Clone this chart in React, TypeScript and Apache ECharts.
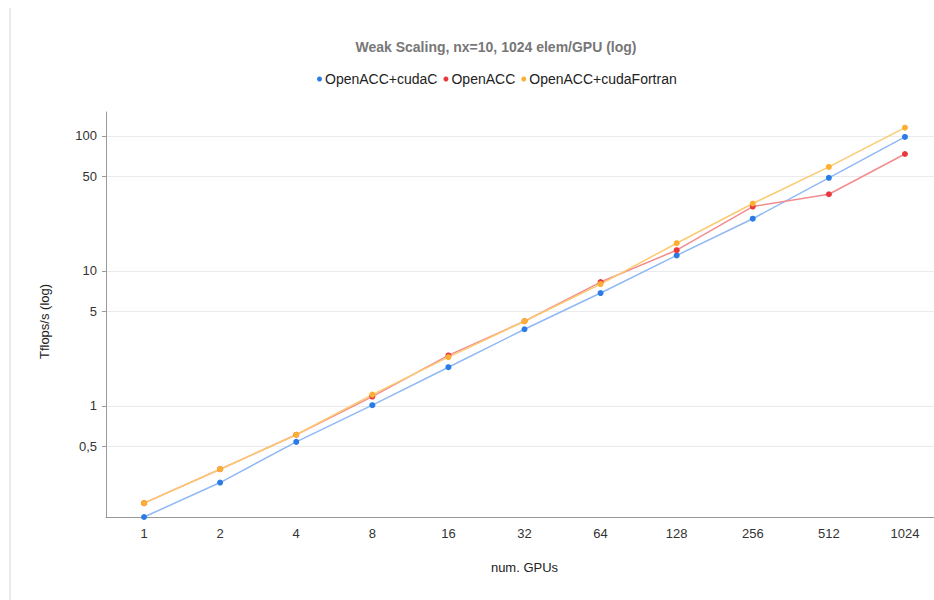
import React, { useEffect, useRef } from "react";
import * as echarts from "echarts";

const gpus = ["1", "2", "4", "8", "16", "32", "64", "128", "256", "512", "1024"];
const cudaC = [0.15, 0.27, 0.54, 1.01, 1.93, 3.69, 6.84, 13.0, 24.3, 48.8, 98];
const openACC = [0.19, 0.339, 0.61, 1.17, 2.36, 4.23, 8.25, 14.2, 29.9, 36.9, 73.3];
const cudaFortran = [0.19, 0.339, 0.61, 1.21, 2.29, 4.23, 7.97, 16.0, 31.5, 58.8, 114.8];
const yTicks = [0.5, 1, 5, 10, 50, 100];

const FONT = "'Liberation Sans', Arial, sans-serif";

export default function App() {
  const ref = useRef<HTMLDivElement>(null);
  useEffect(() => {
    if (!ref.current) return;
    const chart = echarts.init(ref.current, null, { renderer: "svg" });
    const mk = (name: string, data: number[], pt: string, ln: string) => ({
      name,
      type: "line",
      data,
      symbol: "circle",
      symbolSize: 6,
      itemStyle: { color: pt },
      lineStyle: { color: ln, width: 1.5 },
    });
    chart.setOption({
      animation: false,
      textStyle: { fontFamily: FONT },
      title: {
        text: "Weak Scaling, nx=10, 1024 elem/GPU (log)",
        left: 491,
        top: 35,
        textAlign: "center",
        textStyle: { fontSize: 14, fontWeight: "bold", color: "#777", fontFamily: FONT },
      },
      legend: {
        left: 312,
        top: 67,
        icon: "circle",
        itemWidth: 5,
        itemHeight: 5,
        itemGap: 6,
        textStyle: { fontSize: 14, color: "#222", fontFamily: FONT, padding: [0, 0, 0, -2] },
        data: ["OpenACC+cudaC", "OpenACC", "OpenACC+cudaFortran"],
      },
      graphic: [
        {
          type: "line",
          shape: { x1: 10, y1: 8, x2: 10, y2: 600 },
          style: { stroke: "#e4e4e4", lineWidth: 1.5 },
        },
      ],
      grid: { left: 106, top: 112, bottom: 83, right: 0 },
      xAxis: {
        type: "category",
        data: gpus,
        name: "num. GPUs",
        nameLocation: "middle",
        nameGap: 44,
        nameTextStyle: { fontSize: 13, color: "#222", fontFamily: FONT },
        axisLine: { lineStyle: { color: "#999" } },
        axisTick: { alignWithLabel: true, length: 4, lineStyle: { color: "#999" } },
        axisLabel: { fontSize: 13, color: "#333", margin: 10, fontFamily: FONT },
      },
      yAxis: {
        type: "log",
        logBase: 10,
        min: 0.15,
        max: 150,
        name: "Tflops/s (log)",
        nameLocation: "middle",
        nameGap: 55,
        nameTextStyle: { fontSize: 13, color: "#222", fontFamily: FONT, padding: [0, 14, 0, 0] },
        axisLine: { show: true, lineStyle: { color: "#999" } },
        axisTick: { show: true, length: 4, customValues: yTicks, lineStyle: { color: "#999" } },
        axisLabel: {
          fontSize: 13,
          color: "#333",
          margin: 9,
          fontFamily: FONT,
          customValues: yTicks,
          formatter: (v: number) => String(v).replace(".", ","),
        },
        splitLine: { show: true, lineStyle: { color: "#ebebeb", width: 1 } },
      },
      series: [
        mk("OpenACC+cudaC", cudaC, "#2b7be6", "#8fb8f4"),
        mk("OpenACC", openACC, "#e8383d", "#f28c8f"),
        mk("OpenACC+cudaFortran", cudaFortran, "#fbb034", "#fcca70"),
      ],
    });
    return () => chart.dispose();
  }, []);
  return (
    <div style={{ position: "absolute", left: 0, top: 0, width: 934, height: 600, overflow: "hidden", background: "#fff" }}>
      <div ref={ref} style={{ width: 943, height: 600 }} />
    </div>
  );
}
